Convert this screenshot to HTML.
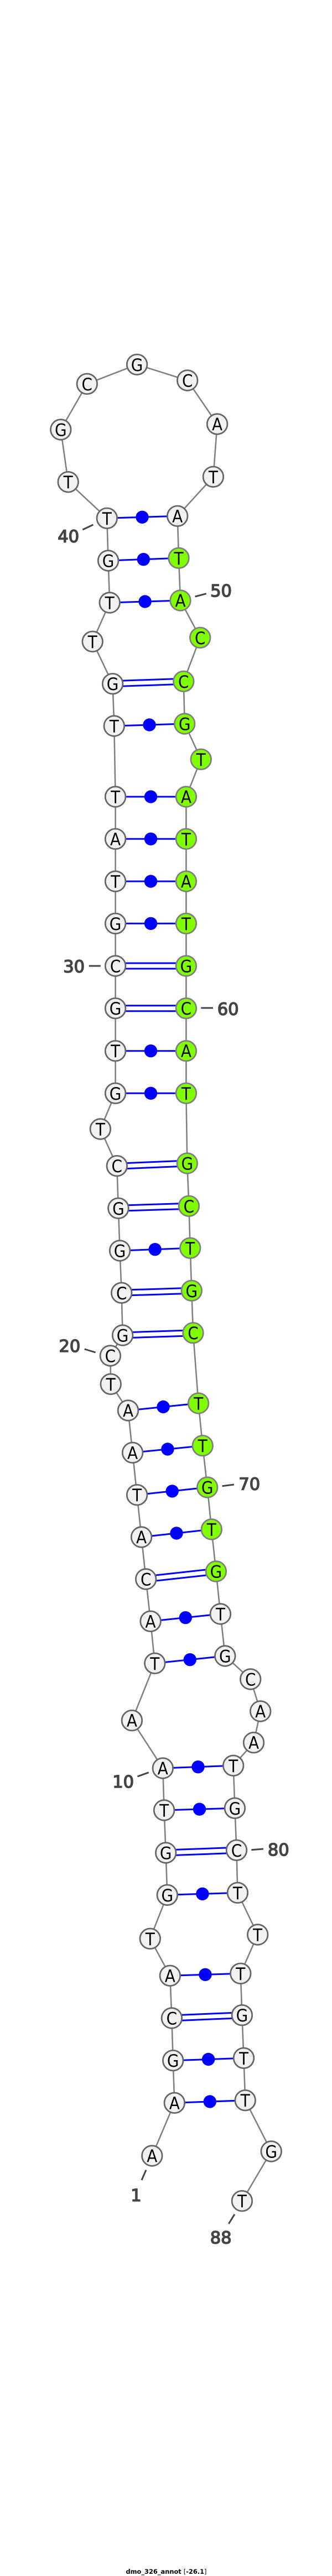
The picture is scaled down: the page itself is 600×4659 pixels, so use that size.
<!DOCTYPE html>
<html><head><meta charset="utf-8"><style>html,body{margin:0;padding:0;background:#fff}svg{display:block}</style></head>
<body>
<svg xmlns="http://www.w3.org/2000/svg" width="600" height="4659" viewBox="0 0 600 4659">
<rect width="600" height="4659" fill="#fff"/>
<polyline fill="none" stroke="#808080" stroke-width="2.6" points="274.8,3899 315.3,3803.3 312.7,3726.7 310.4,3650 307.3,3573.3 271.3,3506.3 302.3,3427.3 299.7,3351 296.6,3274 294.3,3198 238.4,3111.7 279.8,3008.3 272.1,2932.3 263.7,2856 255.6,2780 247.6,2703.7 239.6,2627.3 231.5,2551 200.2,2503.3 199.4,2452 221.6,2415 219.7,2338.3 216.6,2262 213.9,2185.3 211.3,2108.7 181.4,2042 208.6,1977.3 208.6,1900.7 208.6,1823.7 208.6,1747 208.6,1670.3 208.6,1594 208.6,1517.3 208.6,1441 206.3,1313 203.6,1236.7 167.2,1160.3 198.2,1090 195.6,1014 193.3,937.3 123.2,871.7 109.8,777 157.3,694.3 247.6,659.3 338.7,688 392.6,767 385.4,862.3 320.7,933.3 323,1009.3 326,1086 361.7,1153.3 331.8,1232.3 333.7,1309 363.2,1373.3 336.4,1441 336.4,1517.3 336.4,1594 336.4,1670.3 336.4,1747 336.4,1823.7 336.4,1900.7 336.4,1977.3 338.3,2104 341.4,2181.3 343.7,2257.3 346.3,2334.3 349,2410.7 358.6,2538 366.2,2614.7 374.7,2690 382.3,2766 390.4,2842 398.4,2919 406.8,2995 452.7,3037 470.7,3095 458.5,3151.7 421.7,3193.3 424.4,3270.3 427.5,3346.3 429.4,3423.3 465.7,3499 434.8,3569.3 437.4,3644.7 440.5,3722.3 443.2,3798.7 490.2,3891 437.4,3980.7"/>
<g stroke="#0000ff" stroke-width="3" fill="none">
<path d="M315.3 3803.3L443.2 3798.7M312.7 3726.7L440.5 3722.3M307.3 3573.3L434.8 3569.3M302.3 3427.3L429.4 3423.3M296.6 3274L424.4 3270.3M294.3 3198L421.7 3193.3M279.8 3008.3L406.8 2995M272.1 2932.3L398.4 2919M255.6 2780L382.3 2766M247.6 2703.7L374.7 2690M239.6 2627.3L366.2 2614.7M231.5 2551L358.6 2538M216.6 2262L343.7 2257.3M208.6 1977.3H336.4M208.6 1900.7H336.4M208.6 1670.3H336.4M208.6 1594H336.4M208.6 1517.3H336.4M208.6 1441H336.4M206.3 1313L333.7 1309M198.2 1090L326 1086M195.6 1014L323 1009.3M193.3 937.3L320.7 933.3"/>
<path d="M310.4 3645L437.4 3639.7M310.4 3655L437.4 3649.7M299.7 3346L427.5 3341.3M299.7 3356L427.5 3351.3M263.2 2851L389.9 2837M264.2 2861L390.9 2847M221.6 2410L349 2405.7M221.6 2420L349 2415.7M219.7 2333.3L346.3 2329.3M219.7 2343.3L346.3 2339.3M213.9 2180.3L341.4 2176.3M213.9 2190.3L341.4 2186.3M211.3 2104.3L338.3 2099M211.3 2114.3L338.3 2109M208.6 1818.7H336.4M208.6 1828.7H336.4M208.6 1742H336.4M208.6 1752H336.4M203.6 1231.7L331.8 1227.3M203.6 1241.7L331.8 1237.3"/>
</g>
<g fill="#0000ff">
<circle cx="379.3" cy="3801" r="11.7"/><circle cx="376.6" cy="3724.5" r="11.7"/><circle cx="371" cy="3571.3" r="11.7"/><circle cx="365.9" cy="3425.3" r="11.7"/><circle cx="360.5" cy="3272.2" r="11.7"/><circle cx="358" cy="3195.7" r="11.7"/><circle cx="343.3" cy="3001.7" r="11.7"/><circle cx="335.3" cy="2925.7" r="11.7"/><circle cx="319" cy="2773" r="11.7"/><circle cx="311.2" cy="2696.9" r="11.7"/><circle cx="302.9" cy="2621" r="11.7"/><circle cx="295" cy="2544.5" r="11.7"/><circle cx="280.2" cy="2259.7" r="11.7"/><circle cx="272.5" cy="1977.3" r="11.7"/><circle cx="272.5" cy="1900.7" r="11.7"/><circle cx="272.5" cy="1670.3" r="11.7"/><circle cx="272.5" cy="1594" r="11.7"/><circle cx="272.5" cy="1517.3" r="11.7"/><circle cx="272.5" cy="1441" r="11.7"/><circle cx="270" cy="1311" r="11.7"/><circle cx="262.1" cy="1088" r="11.7"/><circle cx="259.3" cy="1011.7" r="11.7"/><circle cx="257" cy="935.3" r="11.7"/>
</g>
<g fill="#f2f2f2" stroke="#666" stroke-width="2.8">
<circle cx="274.8" cy="3899" r="18.3"/><circle cx="315.3" cy="3803.3" r="18.3"/><circle cx="312.7" cy="3726.7" r="18.3"/><circle cx="310.4" cy="3650" r="18.3"/><circle cx="307.3" cy="3573.3" r="18.3"/><circle cx="271.3" cy="3506.3" r="18.3"/><circle cx="302.3" cy="3427.3" r="18.3"/><circle cx="299.7" cy="3351" r="18.3"/><circle cx="296.6" cy="3274" r="18.3"/><circle cx="294.3" cy="3198" r="18.3"/><circle cx="238.4" cy="3111.7" r="18.3"/><circle cx="279.8" cy="3008.3" r="18.3"/><circle cx="272.1" cy="2932.3" r="18.3"/><circle cx="263.7" cy="2856" r="18.3"/><circle cx="255.6" cy="2780" r="18.3"/><circle cx="247.6" cy="2703.7" r="18.3"/><circle cx="239.6" cy="2627.3" r="18.3"/><circle cx="231.5" cy="2551" r="18.3"/><circle cx="200.2" cy="2503.3" r="18.3"/><circle cx="221.6" cy="2415" r="18.3"/><circle cx="199.4" cy="2452" r="18.3"/><circle cx="219.7" cy="2338.3" r="18.3"/><circle cx="216.6" cy="2262" r="18.3"/><circle cx="213.9" cy="2185.3" r="18.3"/><circle cx="211.3" cy="2108.7" r="18.3"/><circle cx="181.4" cy="2042" r="18.3"/><circle cx="208.6" cy="1977.3" r="18.3"/><circle cx="208.6" cy="1900.7" r="18.3"/><circle cx="208.6" cy="1823.7" r="18.3"/><circle cx="208.6" cy="1747" r="18.3"/><circle cx="208.6" cy="1670.3" r="18.3"/><circle cx="208.6" cy="1594" r="18.3"/><circle cx="208.6" cy="1517.3" r="18.3"/><circle cx="208.6" cy="1441" r="18.3"/><circle cx="206.3" cy="1313" r="18.3"/><circle cx="203.6" cy="1236.7" r="18.3"/><circle cx="167.2" cy="1160.3" r="18.3"/><circle cx="198.2" cy="1090" r="18.3"/><circle cx="195.6" cy="1014" r="18.3"/><circle cx="193.3" cy="937.3" r="18.3"/><circle cx="123.2" cy="871.7" r="18.3"/><circle cx="109.8" cy="777" r="18.3"/><circle cx="157.3" cy="694.3" r="18.3"/><circle cx="247.6" cy="659.3" r="18.3"/><circle cx="338.7" cy="688" r="18.3"/><circle cx="392.6" cy="767" r="18.3"/><circle cx="385.4" cy="862.3" r="18.3"/><circle cx="320.7" cy="933.3" r="18.3"/>
<circle cx="398.4" cy="2919" r="18.3"/><circle cx="406.8" cy="2995" r="18.3"/><circle cx="452.7" cy="3037" r="18.3"/><circle cx="470.7" cy="3095" r="18.3"/><circle cx="458.5" cy="3151.7" r="18.3"/><circle cx="421.7" cy="3193.3" r="18.3"/><circle cx="424.4" cy="3270.3" r="18.3"/><circle cx="427.5" cy="3346.3" r="18.3"/><circle cx="429.4" cy="3423.3" r="18.3"/><circle cx="465.7" cy="3499" r="18.3"/><circle cx="434.8" cy="3569.3" r="18.3"/><circle cx="437.4" cy="3644.7" r="18.3"/><circle cx="440.5" cy="3722.3" r="18.3"/><circle cx="443.2" cy="3798.7" r="18.3"/><circle cx="490.2" cy="3891" r="18.3"/><circle cx="437.4" cy="3980.7" r="18.3"/>
</g>
<g fill="#80ff00" stroke="#808080" stroke-width="2.8">
<circle cx="323" cy="1009.3" r="18.3"/><circle cx="326" cy="1086" r="18.3"/><circle cx="361.7" cy="1153.3" r="18.3"/><circle cx="331.8" cy="1232.3" r="18.3"/><circle cx="333.7" cy="1309" r="18.3"/><circle cx="363.2" cy="1373.3" r="18.3"/><circle cx="336.4" cy="1441" r="18.3"/><circle cx="336.4" cy="1517.3" r="18.3"/><circle cx="336.4" cy="1594" r="18.3"/><circle cx="336.4" cy="1670.3" r="18.3"/><circle cx="336.4" cy="1747" r="18.3"/><circle cx="336.4" cy="1823.7" r="18.3"/><circle cx="336.4" cy="1900.7" r="18.3"/><circle cx="336.4" cy="1977.3" r="18.3"/><circle cx="338.3" cy="2104" r="18.3"/><circle cx="341.4" cy="2181.3" r="18.3"/><circle cx="343.7" cy="2257.3" r="18.3"/><circle cx="346.3" cy="2334.3" r="18.3"/><circle cx="349" cy="2410.7" r="18.3"/><circle cx="358.6" cy="2538" r="18.3"/><circle cx="366.2" cy="2614.7" r="18.3"/><circle cx="374.7" cy="2690" r="18.3"/><circle cx="382.3" cy="2766" r="18.3"/><circle cx="390.4" cy="2842" r="18.3"/>
</g>
<g font-family="'DejaVu Sans Condensed','DejaVu Sans',sans-serif" font-stretch="condensed" font-size="31" fill="#000" text-anchor="middle">
<text x="274.8" y="3910.5">A</text><text x="315.3" y="3814.8">A</text><text x="312.7" y="3738.2">G</text><text x="310.4" y="3661.5">C</text><text x="307.3" y="3584.8">A</text><text x="271.3" y="3517.8">T</text><text x="302.3" y="3438.8">G</text><text x="299.7" y="3362.5">G</text><text x="296.6" y="3285.5">T</text><text x="294.3" y="3209.5">A</text><text x="238.4" y="3123.2">A</text><text x="279.8" y="3019.8">T</text><text x="272.1" y="2943.8">A</text><text x="263.7" y="2867.5">C</text><text x="255.6" y="2791.5">A</text><text x="247.6" y="2715.2">T</text><text x="239.6" y="2638.8">A</text><text x="231.5" y="2562.5">A</text><text x="200.2" y="2514.8">T</text><text x="199.4" y="2463.5">C</text><text x="221.6" y="2426.5">G</text><text x="219.7" y="2349.8">C</text><text x="216.6" y="2273.5">G</text><text x="213.9" y="2196.8">G</text><text x="211.3" y="2120.2">C</text><text x="181.4" y="2053.5">T</text><text x="208.6" y="1988.8">G</text><text x="208.6" y="1912.2">T</text><text x="208.6" y="1835.2">G</text><text x="208.6" y="1758.5">C</text><text x="208.6" y="1681.8">G</text><text x="208.6" y="1605.5">T</text><text x="208.6" y="1528.8">A</text><text x="208.6" y="1452.5">T</text><text x="206.3" y="1324.5">T</text><text x="203.6" y="1248.2">G</text><text x="167.2" y="1171.8">T</text><text x="198.2" y="1101.5">T</text><text x="195.6" y="1025.5">G</text><text x="193.3" y="948.8">T</text><text x="123.2" y="883.2">T</text><text x="109.8" y="788.5">G</text><text x="157.3" y="705.8">C</text><text x="247.6" y="670.8">G</text><text x="338.7" y="699.5">C</text><text x="392.6" y="778.5">A</text><text x="385.4" y="873.8">T</text><text x="320.7" y="944.8">A</text><text x="323" y="1020.8">T</text><text x="326" y="1097.5">A</text><text x="361.7" y="1164.8">C</text><text x="331.8" y="1243.8">C</text><text x="333.7" y="1320.5">G</text><text x="363.2" y="1384.8">T</text><text x="336.4" y="1452.5">A</text><text x="336.4" y="1528.8">T</text><text x="336.4" y="1605.5">A</text><text x="336.4" y="1681.8">T</text><text x="336.4" y="1758.5">G</text><text x="336.4" y="1835.2">C</text><text x="336.4" y="1912.2">A</text><text x="336.4" y="1988.8">T</text><text x="338.3" y="2115.5">G</text><text x="341.4" y="2192.8">C</text><text x="343.7" y="2268.8">T</text><text x="346.3" y="2345.8">G</text><text x="349" y="2422.2">C</text><text x="358.6" y="2549.5">T</text><text x="366.2" y="2626.2">T</text><text x="374.7" y="2701.5">G</text><text x="382.3" y="2777.5">T</text><text x="390.4" y="2853.5">G</text><text x="398.4" y="2930.5">T</text><text x="406.8" y="3006.5">G</text><text x="452.7" y="3048.5">C</text><text x="470.7" y="3106.5">A</text><text x="458.5" y="3163.2">A</text><text x="421.7" y="3204.8">T</text><text x="424.4" y="3281.8">G</text><text x="427.5" y="3357.8">C</text><text x="429.4" y="3434.8">T</text><text x="465.7" y="3510.5">T</text><text x="434.8" y="3580.8">T</text><text x="437.4" y="3656.2">G</text><text x="440.5" y="3733.8">T</text><text x="443.2" y="3810.2">T</text><text x="490.2" y="3902.5">G</text><text x="437.4" y="3992.2">T</text>
</g>
<g stroke="#444" stroke-width="3" fill="none">
<path d="M149.3 958L168.4 949M352.5 1079L372.8 1073.7M160.7 1747H181.8M363.2 1823H385M152.7 2440L172.6 2446M401.5 2687.7L422.9 2685M248.4 3213L268.7 3205.7M454.3 3345.7L476 3344M264 3924.7L256 3943M424 4004.7L413.3 4022"/>
</g>
<g font-family="'DejaVu Sans',sans-serif" font-size="30.5" font-weight="400" fill="#444" stroke="#444" stroke-width="1.5" text-anchor="middle">
<text x="123.6" y="980.5">40</text><text x="399.5" y="1078.8">50</text><text x="133.6" y="1758.5">30</text><text x="412.2" y="1835.5">60</text><text x="125.9" y="2444.8">20</text><text x="450.8" y="2694.5">70</text><text x="222.7" y="3233.2">10</text><text x="503.3" y="3355.8">80</text><text x="246" y="3980.8">1</text><text x="399.2" y="4057.5">88</text>
</g>
<text x="300.5" y="4655" text-anchor="middle" font-family="'DejaVu Sans',sans-serif" font-size="11.5" font-weight="700" fill="#000" textLength="146" lengthAdjust="spacingAndGlyphs">dmo_326_annot <tspan font-weight="400">[</tspan>-26.1<tspan font-weight="400">]</tspan></text>
</svg>
</body></html>
